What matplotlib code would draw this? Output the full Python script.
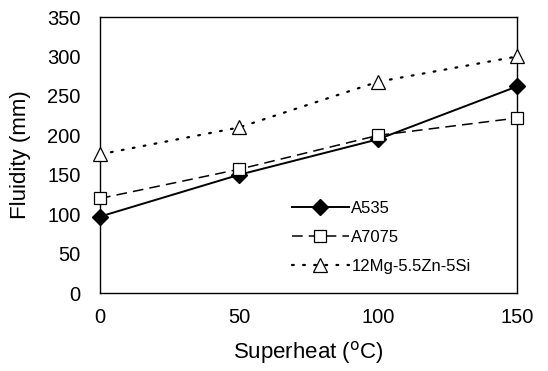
import matplotlib
matplotlib.use('Agg')
import matplotlib.pyplot as plt

plt.rcParams['font.family'] = ['Liberation Sans', 'DejaVu Sans']

superheat = [0, 50, 100, 150]
a535 = [97, 150, 195, 262]
a7075 = [120, 157, 200, 222]
mg_alloy = [176, 210, 268, 300]

fig = plt.figure(figsize=(5.48, 3.71), dpi=100)
ax = fig.add_axes([0.1825, 0.210, 0.761, 0.744])

ax.plot(superheat, a535, '-', color='black', lw=1.4, marker='D', ms=8,
        mfc='black', mec='black', label='A535', clip_on=False, zorder=3)
ax.plot(superheat, a7075, '--', color='black', lw=1.1, marker='s', ms=8,
        mfc='white', mec='black', mew=0.9, label='A7075', dashes=(7, 4),
        clip_on=False, zorder=3)
ax.plot(superheat, mg_alloy, color='black', lw=1.6, marker='^', ms=10,
        mfc='white', mec='black', mew=0.9, label='12Mg-5.5Zn-5Si',
        dashes=(0.8, 4.2), dash_capstyle='round', clip_on=False, zorder=3)

ax.set_xlim(0, 150)
ax.set_ylim(0, 350)
ax.set_xticks(superheat)
ax.set_yticks(range(0, 351, 50))
ax.tick_params(axis='x', length=0, labelsize=14.5, pad=11)
ax.tick_params(axis='y', length=0, labelsize=14.5, pad=14)
for s in ax.spines.values():
    s.set_linewidth(1.0)

ax.set_xlabel('Superheat ($^{\\rm o}$C)', fontsize=16)
ax.set_ylabel('Fluidity (mm)', fontsize=16)
ax.xaxis.set_label_coords(0.5, -0.165)
ax.yaxis.set_label_coords(-0.165, 0.5)

fig.legend(loc='center left', bbox_to_anchor=(0.533, 0.36), frameon=False,
           fontsize=12, handlelength=3.4, handletextpad=0.15,
           labelspacing=0.85, borderpad=0, borderaxespad=0)

fig.savefig('out.png', dpi=100)
